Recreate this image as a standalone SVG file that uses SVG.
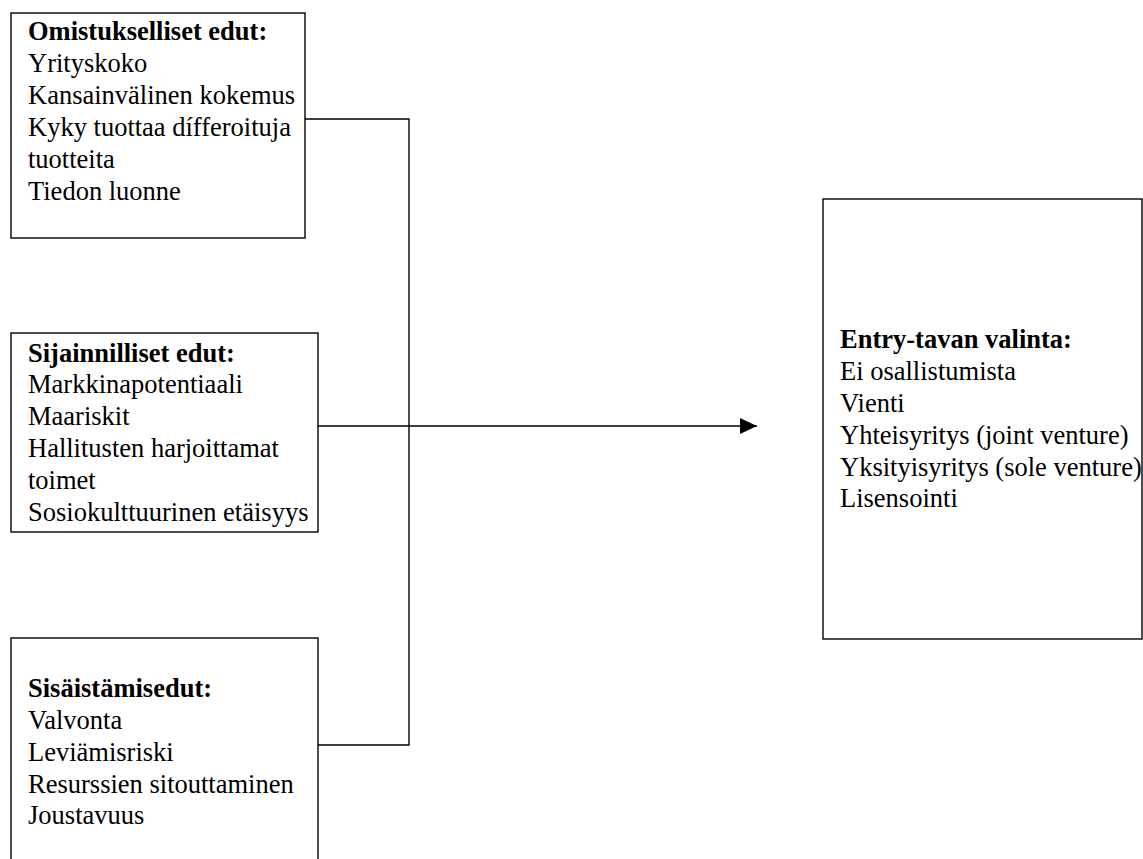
<svg xmlns="http://www.w3.org/2000/svg" width="1143" height="859" viewBox="0 0 1143 859">
<style>
.box{fill:#fff;stroke:#000;stroke-width:1.4}
.t{font-family:"Liberation Serif","Times New Roman",serif;font-size:26.5px;fill:#000}
.b{font-weight:bold}
.c{fill:none;stroke:#000;stroke-width:1.4}
</style>
<defs>
<marker id="ah" markerWidth="18" markerHeight="16" refX="17" refY="8" orient="auto" markerUnits="userSpaceOnUse">
<path d="M0,0 L17,8 L0,16 Z" fill="#000"/>
</marker>
</defs>
<rect width="1143" height="859" fill="#fff"/>
<g id="connectors">
<polyline class="c" points="304,119 409,119 409,745 318,745"/>
<line class="c" x1="318" y1="426" x2="757" y2="426" marker-end="url(#ah)"/>
</g>
<g id="node-omistus">
<rect class="box" x="11" y="13" width="294" height="225"/>
<text class="t" x="28"><tspan class="b" x="28" y="40">Omistukselliset edut:</tspan><tspan x="28" y="72">Yrityskoko</tspan><tspan x="28" y="104">Kansainvälinen kokemus</tspan><tspan x="28" y="136">Kyky tuottaa dífferoituja</tspan><tspan x="28" y="168">tuotteita</tspan><tspan x="28" y="200">Tiedon luonne</tspan></text>
</g>
<g id="node-sijainti">
<rect class="box" x="11" y="333" width="307" height="199"/>
<text class="t"><tspan class="b" x="28" y="362">Sijainnilliset edut:</tspan><tspan x="28" y="393">Markkinapotentiaali</tspan><tspan x="28" y="425">Maariskit</tspan><tspan x="28" y="457">Hallitusten harjoittamat</tspan><tspan x="28" y="489">toimet</tspan><tspan x="28" y="521">Sosiokulttuurinen etäisyys</tspan></text>
</g>
<g id="node-sisaistamis">
<rect class="box" x="11" y="638" width="307" height="240"/>
<text class="t"><tspan class="b" x="28" y="697">Sisäistämisedut:</tspan><tspan x="28" y="729">Valvonta</tspan><tspan x="28" y="761">Leviämisriski</tspan><tspan x="28" y="793">Resurssien sitouttaminen</tspan><tspan x="28" y="824">Joustavuus</tspan></text>
</g>
<g id="node-entry">
<rect class="box" x="823" y="199" width="319" height="440"/>
<text class="t"><tspan class="b" x="840" y="348">Entry-tavan valinta:</tspan><tspan x="840" y="380">Ei osallistumista</tspan><tspan x="840" y="412">Vienti</tspan><tspan x="840" y="444">Yhteisyritys (joint venture)</tspan><tspan x="840" y="476">Yksityisyritys (sole venture)</tspan><tspan x="840" y="507">Lisensointi</tspan></text>
</g>
</svg>
